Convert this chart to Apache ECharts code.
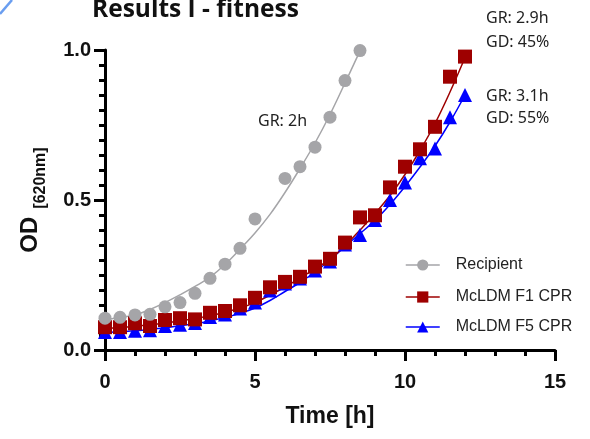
<!DOCTYPE html>
<html>
<head>
<meta charset="utf-8">
<script src="https://cdn.jsdelivr.net/npm/echarts@6/dist/echarts.min.js"></script>
<style>
html,body{margin:0;padding:0;background:#fff;}
#chart{width:590px;height:439px;}
</style>
</head>
<body>
<div id="chart"></div>
<script>
// ---- data ----
const recipientTime = [0,0.5,1,1.5,2,2.5,3,3.5,4,4.5,5,6,6.5,7,7.5,8,8.5];
const recipientOD   = [0.106,0.109,0.117,0.119,0.144,0.158,0.189,0.239,0.286,0.339,0.437,0.572,0.611,0.676,0.776,0.898,0.998];

const mcTime = [0,0.5,1,1.5,2,2.5,3,3.5,4,4.5,5,5.5,6,6.5,7,7.5,8,8.5,9,9.5,10,10.5,11,11.5,12];
const f1OD = [0.076,0.076,0.089,0.080,0.100,0.106,0.102,0.124,0.130,0.149,0.174,0.209,0.227,0.244,0.278,0.304,0.358,0.442,0.449,0.542,0.611,0.669,0.744,0.911,0.978];
const f5OD = [0.060,0.060,0.064,0.066,0.080,0.084,0.090,0.110,0.118,0.138,0.158,0.198,0.222,0.238,0.265,0.295,0.352,0.383,0.433,0.500,0.558,0.639,0.672,0.776,0.850];

// fitted curves
const recipientFitTime = [0,0.5,1,1.5,2,2.5,3,3.5,4,4.5,5,5.5,6,6.5,7,7.5,8,8.5];
const recipientFit = [0.100,0.108,0.117,0.135,0.158,0.184,0.212,0.243,0.285,0.336,0.390,0.452,0.525,0.605,0.690,0.785,0.890,0.997];
const f1Fit = [0.072,0.075,0.079,0.084,0.090,0.097,0.105,0.114,0.126,0.140,0.158,0.183,0.210,0.240,0.270,0.303,0.347,0.400,0.455,0.515,0.585,0.665,0.755,0.860,0.975];
const f5Fit = [0.058,0.061,0.064,0.069,0.074,0.081,0.088,0.097,0.108,0.122,0.140,0.165,0.195,0.225,0.260,0.300,0.345,0.388,0.432,0.485,0.545,0.610,0.680,0.760,0.850];

const seriesNames = ['Recipient','McLDM F1 CPR','McLDM F5 CPR'];
const xTicks = [0,5,10,15];
const yTicks = [0.0,0.5,1.0];
const annotations = ['GR: 2h','GR: 2.9h','GD: 45%','GR: 3.1h','GD: 55%'];

const GRAY = '#a5a5a8', RED = '#9e0000', BLUE = '#0000ff';
const pairs = (xs, ys) => xs.map((x, i) => [x, ys[i]]);

const chart = echarts.init(document.getElementById('chart'), null, {renderer:'canvas'});

function fitSeries(name, xs, ys, color){
  return {
    type:'line', name:name, data:pairs(xs, ys), smooth:0.4, showSymbol:false, symbol:'none',
    lineStyle:{color:color, width:1.5}, silent:true, z:2, animation:false
  };
}
function markSeries(name, xs, ys, color, symbol, size, z){
  return {
    type:'line', name:name, data:pairs(xs, ys), symbol:symbol, symbolSize:size, showSymbol:true,
    itemStyle:{color:color}, lineStyle:{width:0, color:color}, z:z, animation:false
  };
}
function legendFor(idx, top, color){
  return {
    show:true, orient:'vertical', left:400, top:top, itemWidth:34, itemHeight:14, itemGap:0,
    textStyle:{fontFamily:'Liberation Sans, Arial', fontSize:16, color:'#222', padding:[0,0,0,11]},
    data:[{name:seriesNames[idx], lineStyle:{width:1.5, color:color, opacity:1}}]
  };
}

const option = {
  backgroundColor:'#fff',
  animation:false,
  title:{
    text:'Results I - fitness', left:87, top:-7,
    textStyle:{fontFamily:'Open Sans', fontWeight:'bold', fontSize:24.5, color:'#111'}
  },
  grid:{left:105, right:35, top:50, bottom:89},
  legend:[legendFor(0, 252, GRAY), legendFor(1, 284, RED), legendFor(2, 314, BLUE)],
  xAxis:{
    type:'value', min:0, max:15, interval:5,
    name:'Time [h]', nameLocation:'middle', nameGap:55,
    nameTextStyle:{fontFamily:'Liberation Sans, Arial', fontWeight:'bold', fontSize:23, color:'#111'},
    axisLine:{show:true, lineStyle:{color:'#000', width:3}},
    axisTick:{show:true, length:11, lineStyle:{color:'#000', width:3}},
    minorTick:{show:true, splitNumber:5, length:6, lineStyle:{color:'#000', width:3}},
    splitLine:{show:false}, minorSplitLine:{show:false},
    axisLabel:{margin:22, fontFamily:'Liberation Sans, Arial', fontWeight:'bold', fontSize:20, color:'#111',
      formatter:v => xTicks.includes(v) ? String(v) : ''}
  },
  yAxis:{
    type:'value', min:0, max:1, interval:0.5,
    name:'{a|OD}{b|[620nm]}', nameLocation:'middle', nameGap:56, nameRotate:90,
    nameTextStyle:{
      rich:{
        a:{fontFamily:'Liberation Sans, Arial', fontWeight:'bold', fontSize:24, color:'#111', verticalAlign:'top'},
        b:{fontFamily:'Liberation Sans, Arial', fontWeight:'bold', fontSize:16, color:'#111', verticalAlign:'bottom', padding:[15,0,0,8]}
      }
    },
    axisLine:{show:true, lineStyle:{color:'#000', width:3}},
    axisTick:{show:true, length:11, lineStyle:{color:'#000', width:3}},
    minorTick:{show:true, splitNumber:10, length:6, lineStyle:{color:'#000', width:3}},
    splitLine:{show:false}, minorSplitLine:{show:false},
    axisLabel:{margin:14, fontFamily:'Liberation Sans, Arial', fontWeight:'bold', fontSize:20, color:'#111',
      formatter:v => yTicks.some(t => Math.abs(t - v) < 1e-9) ? v.toFixed(1) : ''}
  },
  graphic:[
    {type:'line', shape:{x1:0, y1:14, x2:12, y2:0}, style:{stroke:'#6a9ef0', lineWidth:2.5}},
    {type:'text', left:258, top:113, style:{text:annotations[0], font:'16px "Noto Sans"', fill:'#222'}},
    {type:'text', left:486, top:10, style:{text:annotations[1], font:'16px "Noto Sans"', fill:'#222'}},
    {type:'text', left:486, top:34, style:{text:annotations[2], font:'16px "Noto Sans"', fill:'#222'}},
    {type:'text', left:486, top:88, style:{text:annotations[3], font:'16px "Noto Sans"', fill:'#222'}},
    {type:'text', left:486, top:110, style:{text:annotations[4], font:'16px "Noto Sans"', fill:'#222'}}
  ],
  series:[
    fitSeries('f5fit', mcTime, f5Fit, BLUE),
    markSeries(seriesNames[2], mcTime, f5OD, BLUE, 'triangle', 14, 3),
    fitSeries('f1fit', mcTime, f1Fit, RED),
    markSeries(seriesNames[1], mcTime, f1OD, RED, 'rect', 14, 4),
    fitSeries('recfit', recipientFitTime, recipientFit, GRAY),
    markSeries(seriesNames[0], recipientTime, recipientOD, GRAY, 'circle', 13, 5)
  ]
};
chart.setOption(option);
</script>
</body>
</html>
